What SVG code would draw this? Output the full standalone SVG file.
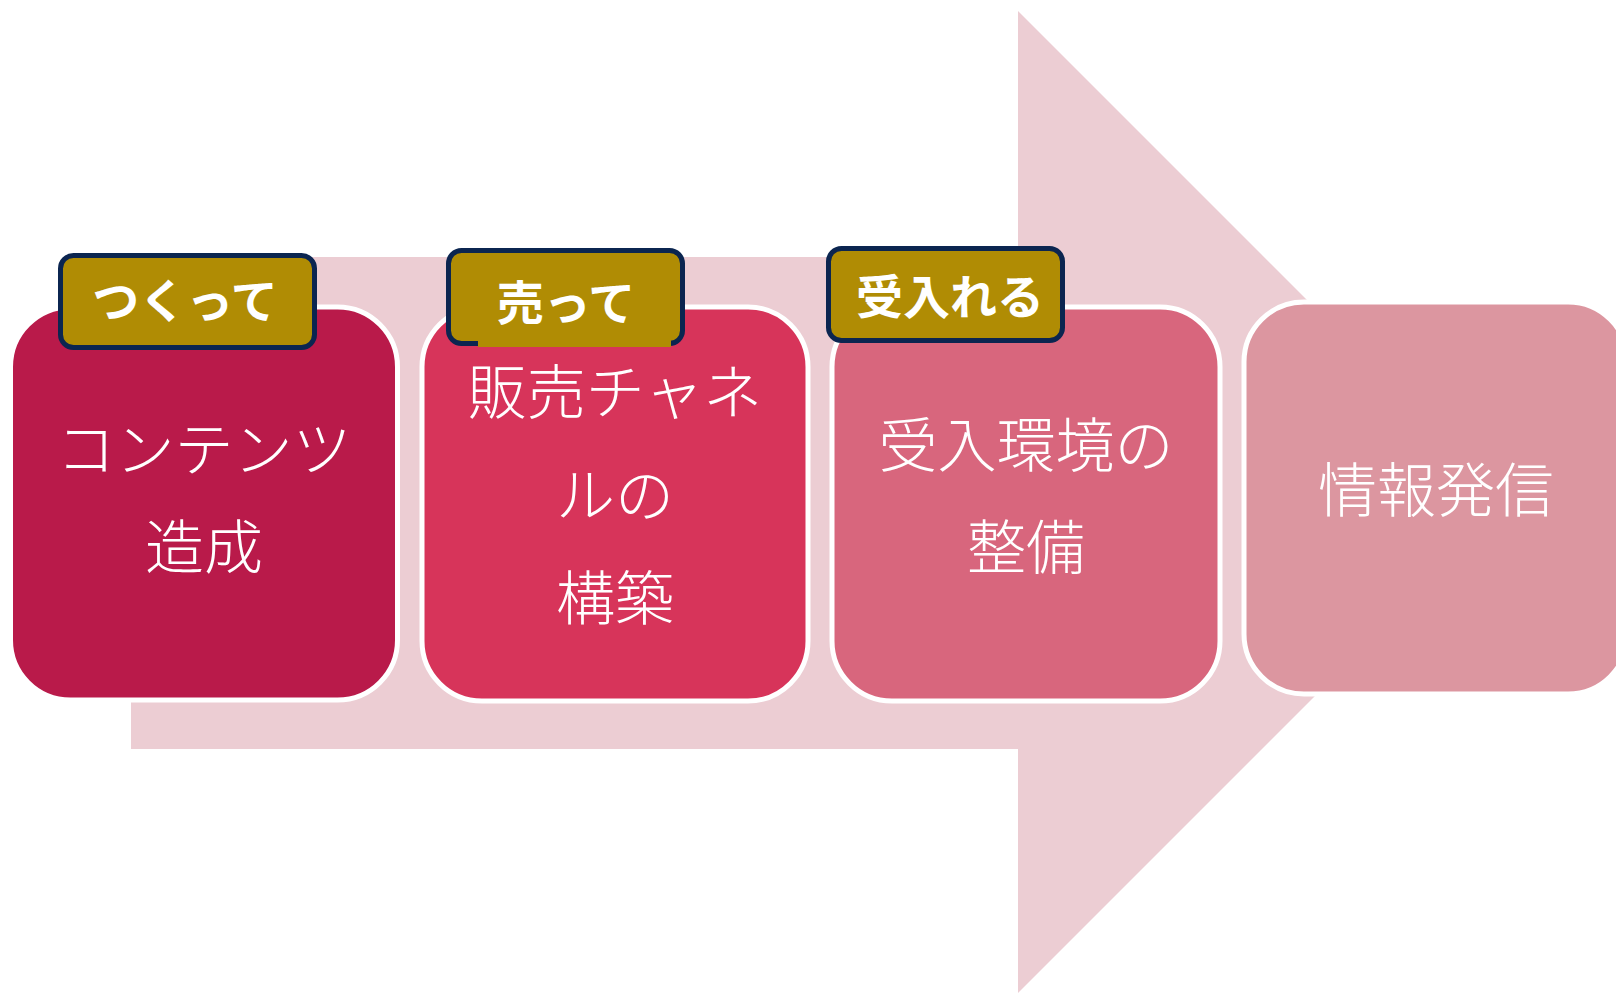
<svg xmlns="http://www.w3.org/2000/svg" width="1616" height="994" viewBox="0 0 1616 994">
<style>
.box{stroke:#FFFFFF;stroke-width:5}
.tag{fill:#B08C04;stroke:#0B2550;stroke-width:5}
.main{font-family:"Noto Sans CJK JP","Noto Sans CJK SC",sans-serif;font-size:59px;font-weight:300;fill:#FFFFFF;text-anchor:middle}
.lbl{font-family:"Noto Sans CJK JP","Noto Sans CJK SC",sans-serif;font-size:47px;font-weight:700;fill:#FFFFFF;text-anchor:middle}
</style>
<rect width="1616" height="994" fill="#FFFFFF"/>
<g id="connectors">
<polygon points="131,257 1018,257 1018,11 1509,502 1018,993 1018,749 131,749" fill="#ECCDD3"/>
</g>
<g id="node4">
<rect class="box" x="1244" y="302" width="384" height="392" rx="60" fill="#DC96A0"/>
<text class="main" x="1436" y="512">情報発信</text>
</g>
<g id="node3">
<rect class="box" x="832" y="307" width="388" height="394" rx="60" fill="#D8667D"/>
<text class="main" x="1026" y="467">受入環境の</text>
<text class="main" x="1026" y="569">整備</text>
</g>
<g id="node2">
<rect class="box" x="422" y="307" width="386" height="394" rx="60" fill="#D7345A"/>
<text class="main" x="615" y="414">販売チャネ</text>
<text class="main" x="615" y="517">ルの</text>
<text class="main" x="615" y="620">構築</text>
</g>
<g id="node1">
<rect class="box" x="10.5" y="307" width="387" height="393" rx="60" fill="#B91A4A"/>
<text class="main" x="204" y="471">コンテンツ</text>
<text class="main" x="204" y="569">造成</text>
</g>
<g id="tag1">
<rect class="tag" x="60.5" y="255.5" width="254" height="92" rx="13"/>
<text class="lbl" x="185" y="318">つくって</text>
</g>
<g id="tag2">
<rect class="tag" x="448.5" y="250.5" width="234" height="93" rx="13"/>
<rect x="478" y="300" width="193" height="47" fill="#B08C04"/>
<text class="lbl" x="566" y="320">売って</text>
</g>
<g id="tag3">
<rect class="tag" x="828.5" y="248.5" width="234" height="92" rx="13"/>
<text class="lbl" x="950" y="314">受入れる</text>
</g>
</svg>
